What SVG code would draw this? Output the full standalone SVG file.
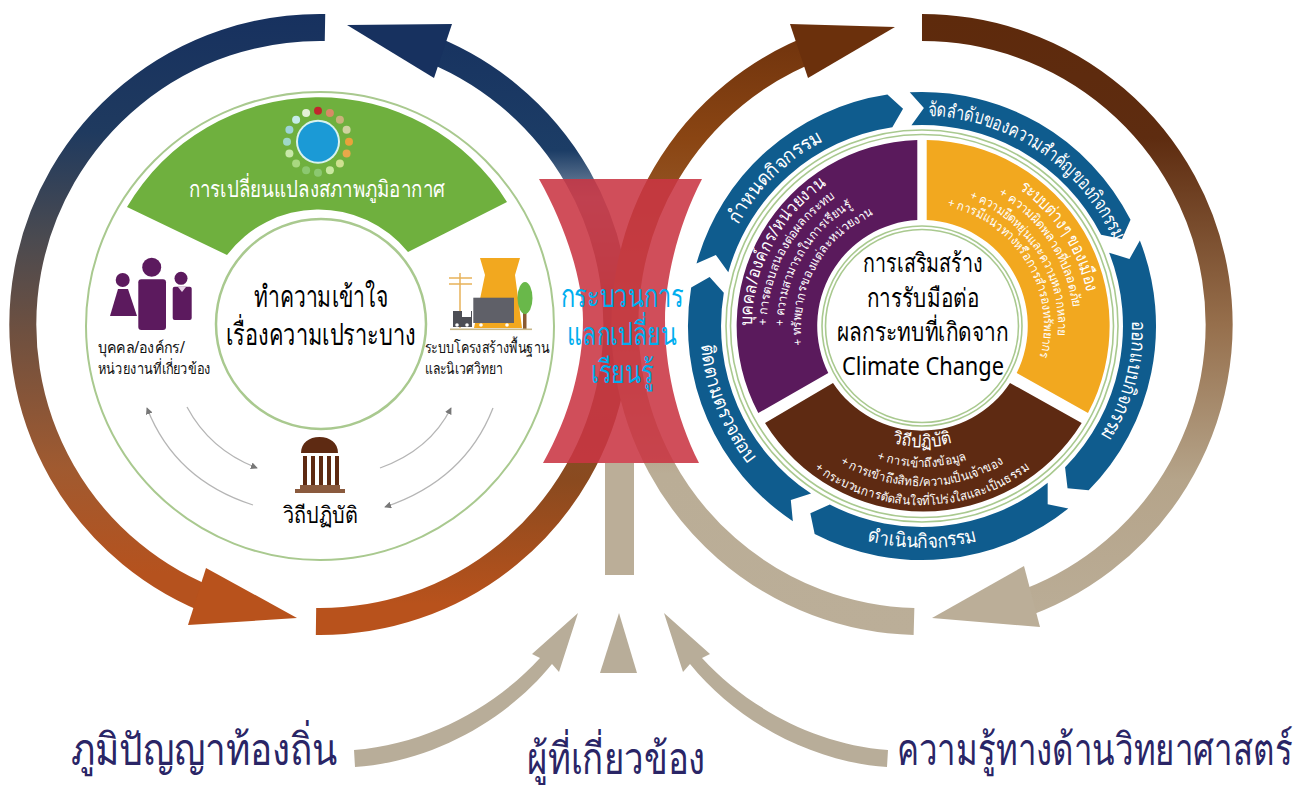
<svg xmlns="http://www.w3.org/2000/svg" width="1301" height="785" viewBox="0 0 1301 785">
<style>
text{font-family:"Noto Sans","DejaVu Sans","Liberation Sans",sans-serif}
.m{text-anchor:middle}
.blue{fill:#fff;font-size:19.5px;text-anchor:middle}
.wt{fill:#fff;font-size:17.5px;text-anchor:middle}
.wb{fill:#fff;font-size:12.5px;text-anchor:middle}
.ctr{fill:#000;font-size:26px;text-anchor:middle}
.bot{fill:#2a2566;font-size:44px;text-anchor:middle}
.lab{fill:#111;font-size:15.5px}
.ga{fill:none;stroke:#b5b5b5;stroke-width:1.3}
</style>
<defs>
<linearGradient id="gL1" gradientUnits="userSpaceOnUse" x1="0" y1="14" x2="0" y2="635"><stop offset="0" stop-color="#17315f"/><stop offset=".19" stop-color="#1f3a5f"/><stop offset=".36" stop-color="#4a4a50"/><stop offset=".51" stop-color="#6e5040"/><stop offset=".73" stop-color="#a05a30"/><stop offset=".9" stop-color="#b5521e"/></linearGradient>
<linearGradient id="gL2" gradientUnits="userSpaceOnUse" x1="0" y1="14" x2="0" y2="635"><stop offset="0" stop-color="#17315f"/><stop offset=".22" stop-color="#1c3d66"/><stop offset=".3" stop-color="#7f90a5"/><stop offset=".45" stop-color="#7a5a40"/><stop offset=".75" stop-color="#8a4a1f"/><stop offset=".95" stop-color="#b8521c"/></linearGradient>
<linearGradient id="gR1" gradientUnits="userSpaceOnUse" x1="0" y1="14" x2="0" y2="635"><stop offset="0" stop-color="#5e2a0c"/><stop offset=".2" stop-color="#5e2c10"/><stop offset=".5" stop-color="#966f4c"/><stop offset=".75" stop-color="#b5a48a"/><stop offset="1" stop-color="#bbae98"/></linearGradient>
<linearGradient id="gR2" gradientUnits="userSpaceOnUse" x1="0" y1="14" x2="0" y2="635"><stop offset="0" stop-color="#6b300c"/><stop offset=".2" stop-color="#8a4513"/><stop offset=".45" stop-color="#a06a3a"/><stop offset=".74" stop-color="#baad96"/><stop offset="1" stop-color="#bbae98"/></linearGradient>
<marker id="dot" viewBox="0 0 8 8" refX="7" refY="4" markerWidth="7" markerHeight="7" markerUnits="userSpaceOnUse" orient="auto"><path d="M0,0 L8,4 L0,8 Z" fill="#777"/></marker>
<path id="seg" fill="#0f5c8e" d="M0,-234 A234,234 0 0 1 213.8,-95.2 L204.2,-76.3 L183.6,-81.7 A201,201 0 0 0 0,-201 L13.3,-217.6 Z"/>
<path id="c210" d="M922,116 A210,210 0 1 1 922,536 A210,210 0 1 1 922,116"/>
<path id="c170" d="M922,156 A170,170 0 1 1 922,496 A170,170 0 1 1 922,156"/>
<path id="c168" d="M922,158 A168,168 0 1 1 922,494 A168,168 0 1 1 922,158"/>
<path id="c155" d="M922,171 A155,155 0 1 1 922,481 A155,155 0 1 1 922,171"/>
<path id="c152" d="M922,174 A152,152 0 1 1 922,478 A152,152 0 1 1 922,174"/>
<path id="c138" d="M922,188 A138,138 0 1 1 922,464 A138,138 0 1 1 922,188"/>
<path id="c136" d="M922,190 A136,136 0 1 1 922,462 A136,136 0 1 1 922,190"/>
<path id="c122" d="M922,204 A122,122 0 1 1 922,448 A122,122 0 1 1 922,204"/>
<path id="c121" d="M922,205 A121,121 0 1 1 922,447 A121,121 0 1 1 922,205"/>
<path id="a222" d="M922,104 A222,222 0 1 0 922,548 A222,222 0 1 0 922,104"/>
<path id="a121" d="M922,205 A121,121 0 1 0 922,447 A121,121 0 1 0 922,205"/>
<path id="a141" d="M922,185 A141,141 0 1 0 922,467 A141,141 0 1 0 922,185"/>
<path id="a160" d="M922,166 A160,160 0 1 0 922,486 A160,160 0 1 0 922,166"/>
<path id="a179" d="M922,147 A179,179 0 1 0 922,505 A179,179 0 1 0 922,147"/>
</defs>
<rect width="1301" height="785" fill="#fff"/>

<g id="connectors">
<g id="rings" fill="none" stroke-width="27">
<path stroke="url(#gL1)" d="M325,27.5 A297,297 0 0 0 218.4,603.6"/>
<path stroke="url(#gL2)" d="M316,621.5 A297,297 0 0 0 421.6,45.5"/>
<path stroke="url(#gR1)" d="M922,27.5 A297,297 0 0 1 1013.8,607"/>
<path stroke="url(#gR2)" d="M914,621.5 A297,297 0 0 1 820.4,45.5"/>
</g>
<polygon fill="#b8521c" points="297,618 188,625 206,568"/>
<polygon fill="#17315f" points="347,25 452,24 434,78"/>
<polygon fill="#6b300c" points="895,27 790,24 808,78"/>
<polygon fill="#bbae98" points="932,618 1040,627 1024,566"/>
<rect x="605" y="463" width="29" height="112" fill="#bbae98"/>
<g fill="#b8ad99">
<path d="M354,750 C430,744 497,705 540,658 L532,654 L578,613 L559,672 L552,664 C505,722 430,762 355,767 Z"/>
<path d="M888,750 C812,744 745,705 702,658 L710,654 L664,613 L683,672 L690,664 C737,722 812,762 887,767 Z"/>
<polygon points="619,613 637,673 600,673"/>
</g>
<g id="gray-arrows">
<path class="ga" marker-end="url(#dot)" d="M253,505 Q175,480 147,408"/>
<path class="ga" marker-end="url(#dot)" d="M187,407 Q210,450 257,468"/>
<path class="ga" marker-end="url(#dot)" d="M380,468 Q430,450 451,408"/>
<path class="ga" marker-end="url(#dot)" d="M493,408 Q465,480 385,507"/>
</g>
</g>

<g id="exchange">
<path fill="#c93543" fill-opacity=".88" d="M539,179 L702,179 C678,225 665,280 665,320 C665,365 675,415 699,463 L543,463 C570,415 583,365 583,320 C583,280 565,225 539,179 Z"/>
<g fill="#00aeef" font-size="32">
<text class="m" x="622" y="307" textLength="123" lengthAdjust="spacingAndGlyphs">กระบวนการ</text>
<text class="m" x="622" y="345" textLength="110" lengthAdjust="spacingAndGlyphs">แลกเปลี่ยน</text>
<text class="m" x="622" y="383" textLength="63" lengthAdjust="spacingAndGlyphs">เรียนรู้</text>
</g>
</g>

<g id="left-circle" fill="none" stroke="#a9c98f">
<circle cx="320" cy="326" r="234" stroke-width="2"/>
<circle cx="321" cy="324" r="105" stroke-width="2.5"/>
</g>

<g id="node-climate">
<path fill="#6fb03e" d="M127,207 A222,222 0 0 1 507,202 L408,252 A115,115 0 0 0 227,255 Z"/>
<circle cx="318" cy="141.7" r="22" fill="#d8f2ee"/>
<circle cx="318" cy="141.7" r="20" fill="#1b9ad6"/>
<g>
<circle cx="318" cy="110.7" r="4" fill="#c1272d"/><circle cx="329.9" cy="113.1" r="4" fill="#d98a66"/><circle cx="339.9" cy="119.8" r="4" fill="#c9b27a"/><circle cx="346.6" cy="129.8" r="4" fill="#cfd3a0"/><circle cx="349" cy="141.7" r="4" fill="#e9a23b"/><circle cx="346.6" cy="153.6" r="4" fill="#e8a84a"/><circle cx="339.9" cy="163.6" r="4" fill="#cfe090"/><circle cx="329.9" cy="170.3" r="4" fill="#c9e8a0"/><circle cx="318" cy="172.7" r="4" fill="#8cc870"/><circle cx="306.1" cy="170.3" r="4" fill="#8cc870"/><circle cx="296.1" cy="163.6" r="4" fill="#a8d880"/><circle cx="289.4" cy="153.6" r="4" fill="#c8e8a8"/><circle cx="287" cy="141.7" r="4" fill="#9fd8c8"/><circle cx="289.4" cy="129.8" r="4" fill="#9fd4d8"/><circle cx="296.1" cy="119.8" r="4" fill="#c6ecea"/><circle cx="306.1" cy="113.1" r="4" fill="#e5f0d8"/>
</g>
<text class="m" x="317" y="197" fill="#fff" font-size="23" textLength="257" lengthAdjust="spacingAndGlyphs">การเปลี่ยนแปลงสภาพภูมิอากาศ</text>
</g>

<g id="node-understand">
<text class="m" x="321" y="307" font-size="30" fill="#000" textLength="135" lengthAdjust="spacingAndGlyphs">ทำความเข้าใจ</text>
<text class="m" x="321" y="345" font-size="30" fill="#000" textLength="190" lengthAdjust="spacingAndGlyphs">เรื่องความเปราะบาง</text>
</g>

<g id="node-people">
<g fill="#5c1a5e">
<circle cx="151.7" cy="267.3" r="9.5"/>
<rect x="138.3" y="279.3" width="27.7" height="50.7" rx="3"/>
<circle cx="122.7" cy="280" r="7"/>
<polygon points="118,289 128,289 137,316 110,316"/>
<circle cx="181" cy="278.3" r="6.5"/>
<rect x="172.7" y="286.7" width="19" height="33.3" rx="2"/>
</g>
<polygon points="178,287 186,287 182,292" fill="#e8d4e8"/>
<text class="lab" x="98" y="353" textLength="87" lengthAdjust="spacingAndGlyphs">บุคคล/องค์กร/</text>
<text class="lab" x="98" y="374" textLength="113" lengthAdjust="spacingAndGlyphs">หน่วยงานที่เกี่ยวข้อง</text>
</g>

<g id="node-infra">
<polygon points="480,258 520,258 515,275 522,328 474,328 485,275" fill="#f2a81f"/>
<g stroke="#e8b25a" stroke-width="1.5"><path d="M460,273 V328 M449,278 H472 M449,284 H472"/></g>
<rect x="473.3" y="297.7" width="40.7" height="25.3" fill="#5f6068"/>
<rect x="453" y="311" width="19" height="16" fill="#4d4e55"/>
<rect x="462" y="309" width="9" height="8" fill="#fff"/>
<g fill="#fff"><circle cx="457" cy="325" r="1.8"/><circle cx="467" cy="325" r="1.8"/><circle cx="481" cy="325" r="1.8"/><circle cx="507" cy="325" r="1.8"/></g>
<rect x="523" y="310" width="3.5" height="19" fill="#8a5a30"/>
<ellipse cx="525" cy="298" rx="7.5" ry="16" fill="#69b84a"/>
<rect x="450" y="328.5" width="82" height="1.6" fill="#c8b88a"/>
<text class="lab" x="425" y="353" textLength="125" lengthAdjust="spacingAndGlyphs">ระบบโครงสร้างพื้นฐาน</text>
<text class="lab" x="425" y="374" textLength="78" lengthAdjust="spacingAndGlyphs">และนิเวศวิทยา</text>
</g>

<g id="node-practice">
<path fill="#5e2a12" d="M301,453 C301,443 309,437 319.5,437 C330,437 338,443 338,453 Z"/>
<g fill="#5e2a12"><rect x="303" y="456" width="4" height="29"/><rect x="311" y="456" width="4" height="29"/><rect x="319" y="456" width="4" height="29"/><rect x="327" y="456" width="4" height="29"/><rect x="335" y="456" width="4" height="29"/></g>
<rect x="300" y="485" width="40" height="4" fill="#8a5a3e"/>
<rect x="295" y="489" width="50" height="4" fill="#8a5a3e"/>
<text class="m" x="320" y="523" font-size="23" fill="#000" textLength="75" lengthAdjust="spacingAndGlyphs">วิถีปฏิบัติ</text>
</g>

<g id="right-rings" fill="none" stroke="#a9c98f">
<circle cx="922" cy="326" r="196" stroke-width="1.6"/>
<circle cx="922" cy="326" r="191.5" stroke-width="1.6"/>
<circle cx="922" cy="326" r="100" stroke-width="1.6"/>
<circle cx="922" cy="326" r="96.5" stroke-width="1.6"/>
</g>

<g id="node-define"><use href="#seg" transform="translate(922 326) rotate(285.5)"/><text class="blue"><textPath href="#c210" startOffset="87.6%" textLength="122" lengthAdjust="spacingAndGlyphs">กำหนดกิจกรรม</textPath></text></g>
<g id="node-priority"><use href="#seg" transform="translate(922 326) rotate(-3)"/><text class="blue"><textPath href="#c210" startOffset="9.4%" textLength="236" lengthAdjust="spacingAndGlyphs">จัดลำดับของความสำคัญของกิจกรรม</textPath></text></g>
<g id="node-design"><use href="#seg" transform="translate(922 326) rotate(68.6)"/><text class="blue"><textPath href="#c210" startOffset="29.2%" textLength="121" lengthAdjust="spacingAndGlyphs">ออกแบบกิจกรรม</textPath></text></g>
<g id="node-do"><use href="#seg" transform="translate(922 326) rotate(141.3)"/><text class="blue"><textPath href="#a222" startOffset="50%" textLength="112" lengthAdjust="spacingAndGlyphs">ดำเนินกิจกรรม</textPath></text></g>
<g id="node-monitor"><use href="#seg" transform="translate(922 326) rotate(213.5)"/><text class="blue"><textPath href="#a222" startOffset="31%" textLength="130" lengthAdjust="spacingAndGlyphs">ติดตามตรวจสอบ</textPath></text></g>

<g id="node-wedge-people">
<path fill="#5a1a5c" d="M917.3,140 V220 A106,106 0 0 0 828.3,373 L758.3,413 A186,186 0 0 1 917.3,140 Z"/>
<text class="wt"><textPath href="#c170" startOffset="82.8%" textLength="166" lengthAdjust="spacingAndGlyphs">บุคคล/องค์กร/หน่วยงาน</textPath></text>
<text class="wb"><textPath href="#c155" startOffset="82.8%" textLength="151" lengthAdjust="spacingAndGlyphs">+ การตอบสนองต่อผลกระทบ</textPath></text>
<text class="wb"><textPath href="#c138" startOffset="83.3%" textLength="144" lengthAdjust="spacingAndGlyphs">+ ความสามารถในการเรียนรู้</textPath></text>
<text class="wb"><textPath href="#c121" startOffset="83%" textLength="160" lengthAdjust="spacingAndGlyphs">+ ทรัพยากรของแต่ละหน่วยงาน</textPath></text>
</g>
<g id="node-wedge-city">
<path fill="#f2a81f" d="M926.7,140 V220 A106,106 0 0 1 1016.7,373 L1088,413 A186,186 0 0 0 926.7,140 Z"/>
<text class="wt"><textPath href="#c168" startOffset="15.8%" textLength="127" lengthAdjust="spacingAndGlyphs">ระบบต่างๆ ของเมือง</textPath></text>
<text class="wb"><textPath href="#c152" startOffset="15.7%" textLength="140" lengthAdjust="spacingAndGlyphs">+ ความผิดพลาดที่ปลอดภัย</textPath></text>
<text class="wb"><textPath href="#c136" startOffset="15.9%" textLength="175" lengthAdjust="spacingAndGlyphs">+ ความยืดหยุ่นและความหลากหลาย</textPath></text>
<text class="wb"><textPath href="#c122" startOffset="16.25%" textLength="198" lengthAdjust="spacingAndGlyphs">+ การมีแนวทางหรือการสำรองทรัพยากร</textPath></text>
</g>
<g id="node-wedge-practice">
<path fill="#5e2a12" d="M765,423 L833,383 A106,106 0 0 0 1010,383 L1081.7,423 A186,186 0 0 1 765,423 Z"/>
<text class="wt"><textPath href="#a121" startOffset="50%" textLength="60" lengthAdjust="spacingAndGlyphs">วิถีปฏิบัติ</textPath></text>
<text class="wb"><textPath href="#a141" startOffset="50%" textLength="92" lengthAdjust="spacingAndGlyphs">+ การเข้าถึงข้อมูล</textPath></text>
<text class="wb"><textPath href="#a160" startOffset="50%" textLength="172" lengthAdjust="spacingAndGlyphs">+ การเข้าถึงสิทธิ/ความเป็นเจ้าของ</textPath></text>
<text class="wb"><textPath href="#a179" startOffset="50%" textLength="231" lengthAdjust="spacingAndGlyphs">+ กระบวนการตัดสินใจที่โปร่งใสและเป็นธรรม</textPath></text>
</g>
<g id="node-center">
<text class="ctr" x="923" y="272" textLength="120" lengthAdjust="spacingAndGlyphs">การเสริมสร้าง</text>
<text class="ctr" x="923" y="307" textLength="113" lengthAdjust="spacingAndGlyphs">การรับมือต่อ</text>
<text class="ctr" x="923" y="341" textLength="172" lengthAdjust="spacingAndGlyphs">ผลกระทบที่เกิดจาก</text>
<text class="ctr" x="923" y="375" textLength="162" lengthAdjust="spacingAndGlyphs">Climate Change</text>
</g>

<g id="node-local"><text class="bot" x="204" y="765" textLength="267" lengthAdjust="spacingAndGlyphs">ภูมิปัญญาท้องถิ่น</text></g>
<g id="node-stake"><text class="bot" x="616" y="774" textLength="178" lengthAdjust="spacingAndGlyphs">ผู้ที่เกี่ยวข้อง</text></g>
<g id="node-science"><text class="bot" x="1095" y="765" textLength="396" lengthAdjust="spacingAndGlyphs">ความรู้ทางด้านวิทยาศาสตร์</text></g>
</svg>
